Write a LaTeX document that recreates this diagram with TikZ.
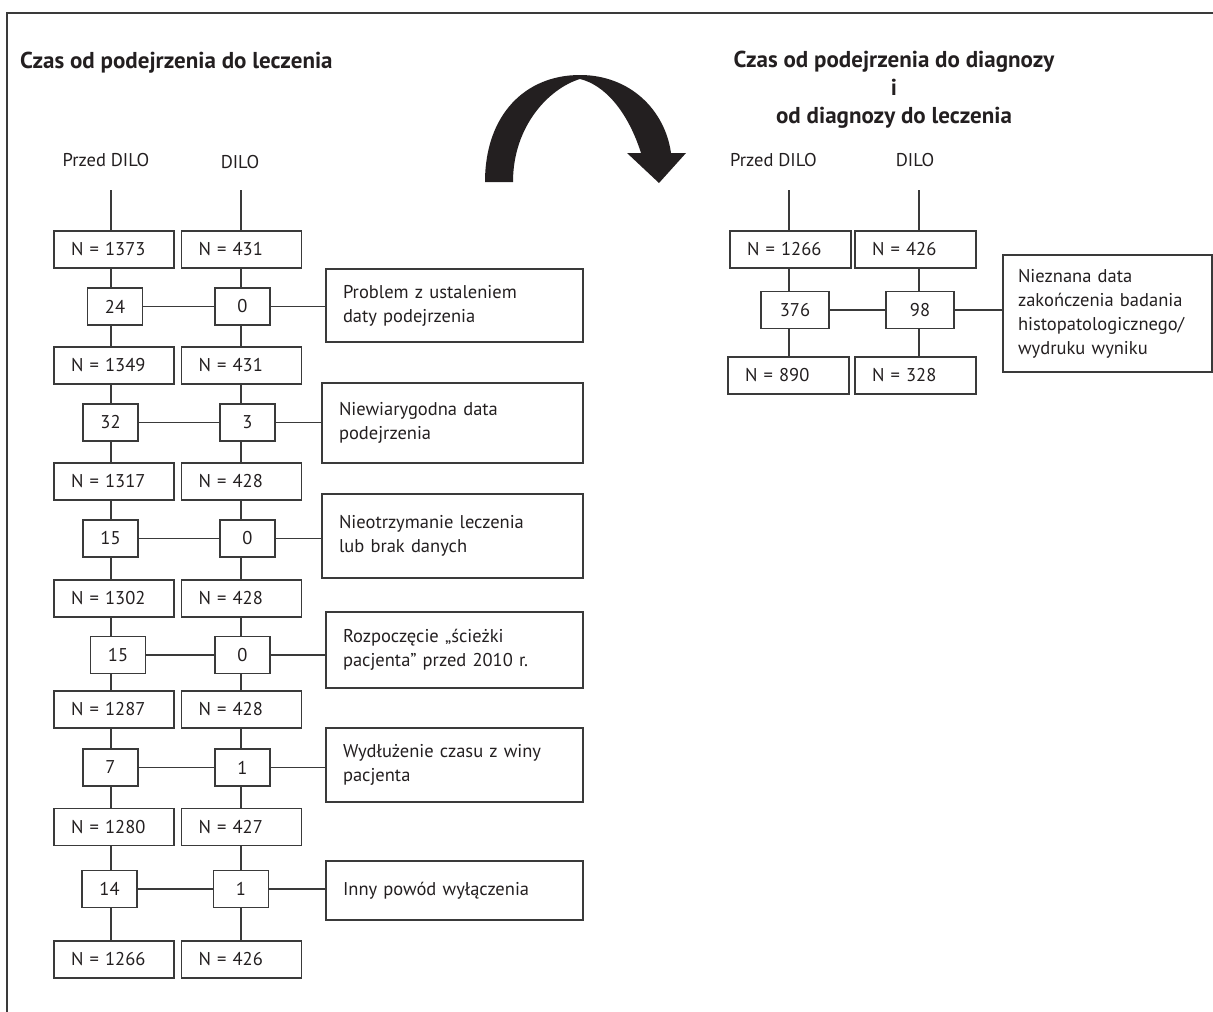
\documentclass[tikz,border=0pt]{standalone}
\usepackage{fontspec}
\setmainfont{PT Sans}
\definecolor{ink}{HTML}{231F20}
\definecolor{ln}{HTML}{3A3A3A}
\begin{document}
\begin{tikzpicture}[x=1pt,y=-1pt,
  every node/.style={text=ink},
  font=\fontsize{18.5}{24}\selectfont,
  nbox/.style={draw=ln, line width=1.2pt, minimum height=37pt, text width=86pt, inner xsep=17pt, inner ysep=0pt, align=left},
  sbox/.style={draw=ln, line width=1.2pt, minimum height=37pt, minimum width=55pt, inner sep=0pt},
  rbox/.style={draw=ln, line width=1.2pt, inner xsep=17pt, inner ysep=0pt, align=left},
  conn/.style={draw=ln, line width=1.2pt},
  title/.style={font=\fontsize{23}{28}\selectfont\bfseries, inner sep=0pt},
  hdr/.style={inner sep=0pt}]
\useasboundingbox (0,0) rectangle (1213,1012);
% frame
\draw[conn] (7,1012) -- (7,13) -- (1213,13);

% titles
\node[title, anchor=base west] (t1) at (20,68) {Czas od podejrzenia do leczenia};
\node[title, anchor=north, align=center] (t2) at (894,51) {Czas od podejrzenia do diagnozy\\i\\od diagnozy do leczenia};

% curved arrow
\fill[ink] (485,182) .. controls (485,115) and (525,75) .. (580,75)
  .. controls (630,75) and (665,110) .. (671,153)
  -- (686,153) -- (659,183) -- (627,153) -- (641,153)
  .. controls (628,112) and (605,85) .. (580,79)
  .. controls (550,88) and (513,125) .. (513,182) -- cycle;

% ---------- left flow ----------
\node[hdr] (hL) at (106,160) {Przed DILO};
\node[hdr] (hR) at (240,162) {DILO};
\coordinate (cL) at (111,190);
\coordinate (cR) at (241,190);

\node[nbox] (n0L) at (114,249.5) {N = 1373};
\node[nbox] (n0R) at (241.5,249.5) {N = 431};
\node[sbox] (s1L) at (115,306.5) {24};
\node[sbox] (s1R) at (242.5,306.5) {0};
\node[rbox, text width=223pt, minimum height=73pt] (r1) at (454.5,305.5) {Problem z ustaleniem\\daty podejrzenia};
\node[nbox] (n1L) at (114,365.5) {N = 1349};
\node[nbox] (n1R) at (241.5,365.5) {N = 431};
\node[sbox] (s2L) at (110.5,422.5) {32};
\node[sbox] (s2R) at (247.5,422.5) {3};
\node[rbox, text width=227pt, minimum height=80pt] (r2) at (452.5,423) {Niewiarygodna data\\podejrzenia};
\node[nbox] (n2L) at (114,481.5) {N = 1317};
\node[nbox] (n2R) at (241.5,481.5) {N = 428};
\node[sbox] (s3L) at (110.5,538.5) {15};
\node[sbox] (s3R) at (247.5,538.5) {0};
\node[rbox, text width=227pt, minimum height=84pt] (r3) at (452.5,536) {Nieotrzymanie leczenia\\lub brak danych};
\node[nbox] (n3L) at (114,598.5) {N = 1302};
\node[nbox] (n3R) at (241.5,598.5) {N = 428};
\node[sbox] (s4L) at (118,655) {15};
\node[sbox] (s4R) at (242.5,655) {0};
\node[rbox, text width=223pt, minimum height=76pt] (r4) at (454.5,650) {Rozpoczęcie „ścieżki\\pacjenta” przed 2010 r.};
\node[nbox] (n4L) at (114,709.5) {N = 1287};
\node[nbox] (n4R) at (241.5,709.5) {N = 428};
\node[sbox] (s5L) at (110.5,767.5) {7};
\node[sbox] (s5R) at (242.5,767.5) {1};
\node[rbox, text width=223pt, minimum height=74pt] (r5) at (454.5,765) {Wydłużenie czasu z winy\\pacjenta};
\node[nbox] (n5L) at (114,827) {N = 1280};
\node[nbox] (n5R) at (241.5,827) {N = 427};
\node[sbox] (s6L) at (109.5,889) {14};
\node[sbox] (s6R) at (241,889) {1};
\node[rbox, text width=223pt, minimum height=59pt] (r6) at (454.5,890.5) {Inny powód wyłączenia};
\node[nbox] (n6L) at (114,959.5) {N = 1266};
\node[nbox] (n6R) at (241.5,959.5) {N = 426};

% vertical connectors
\draw[conn] (cL) -- (n0L.north -| cL);
\draw[conn] (cR) -- (n0R.north -| cR);
\foreach \a/\b/\c in {0/1/1,1/2/2,2/3/3,3/4/4,4/5/5,5/6/6}{
  \draw[conn] (n\a L.south -| cL) -- (s\b L.north -| cL);
  \draw[conn] (s\b L.south -| cL) -- (n\c L.north -| cL);
  \draw[conn] (n\a R.south -| cR) -- (s\b R.north -| cR);
  \draw[conn] (s\b R.south -| cR) -- (n\c R.north -| cR);
}
% horizontal connectors
\foreach \i in {1,...,6}{
  \draw[conn] (s\i L.east) -- (s\i R.west);
  \draw[conn] (s\i R.east) -- (s\i R.east -| r\i.west);
}

% ---------- right flow ----------
\node[hdr] (qL) at (773.5,160) {Przed DILO};
\node[hdr] (qR) at (915,160) {DILO};
\coordinate (dL) at (789,190);
\coordinate (dR) at (919,190);
\node[nbox, text width=87pt] (m0L) at (790.5,249.5) {N = 1266};
\node[nbox, text width=87pt] (m0R) at (915.5,249.5) {N = 426};
\node[sbox, minimum width=68pt] (u1L) at (795,310) {376};
\node[sbox, minimum width=68pt] (u1R) at (920,310) {98};
\node[rbox, inner xsep=15pt, text width=179pt, minimum height=117pt] (q1) at (1107.5,313.5) {Nieznana data\\zakończenia badania\\histopatologicznego/\\wydruku wyniku};
\node[nbox, text width=87pt] (m1L) at (788.5,375.5) {N = 890};
\node[nbox, text width=87pt] (m1R) at (915.5,375.5) {N = 328};

\draw[conn] (dL) -- (m0L.north -| dL);
\draw[conn] (dR) -- (m0R.north -| dR);
\draw[conn] (m0L.south -| dL) -- (u1L.north -| dL);
\draw[conn] (u1L.south -| dL) -- (m1L.north -| dL);
\draw[conn] (m0R.south -| dR) -- (u1R.north -| dR);
\draw[conn] (u1R.south -| dR) -- (m1R.north -| dR);
\draw[conn] (u1L.east) -- (u1R.west);
\draw[conn] (u1R.east) -- (u1R.east -| q1.west);
\end{tikzpicture}
\end{document}
